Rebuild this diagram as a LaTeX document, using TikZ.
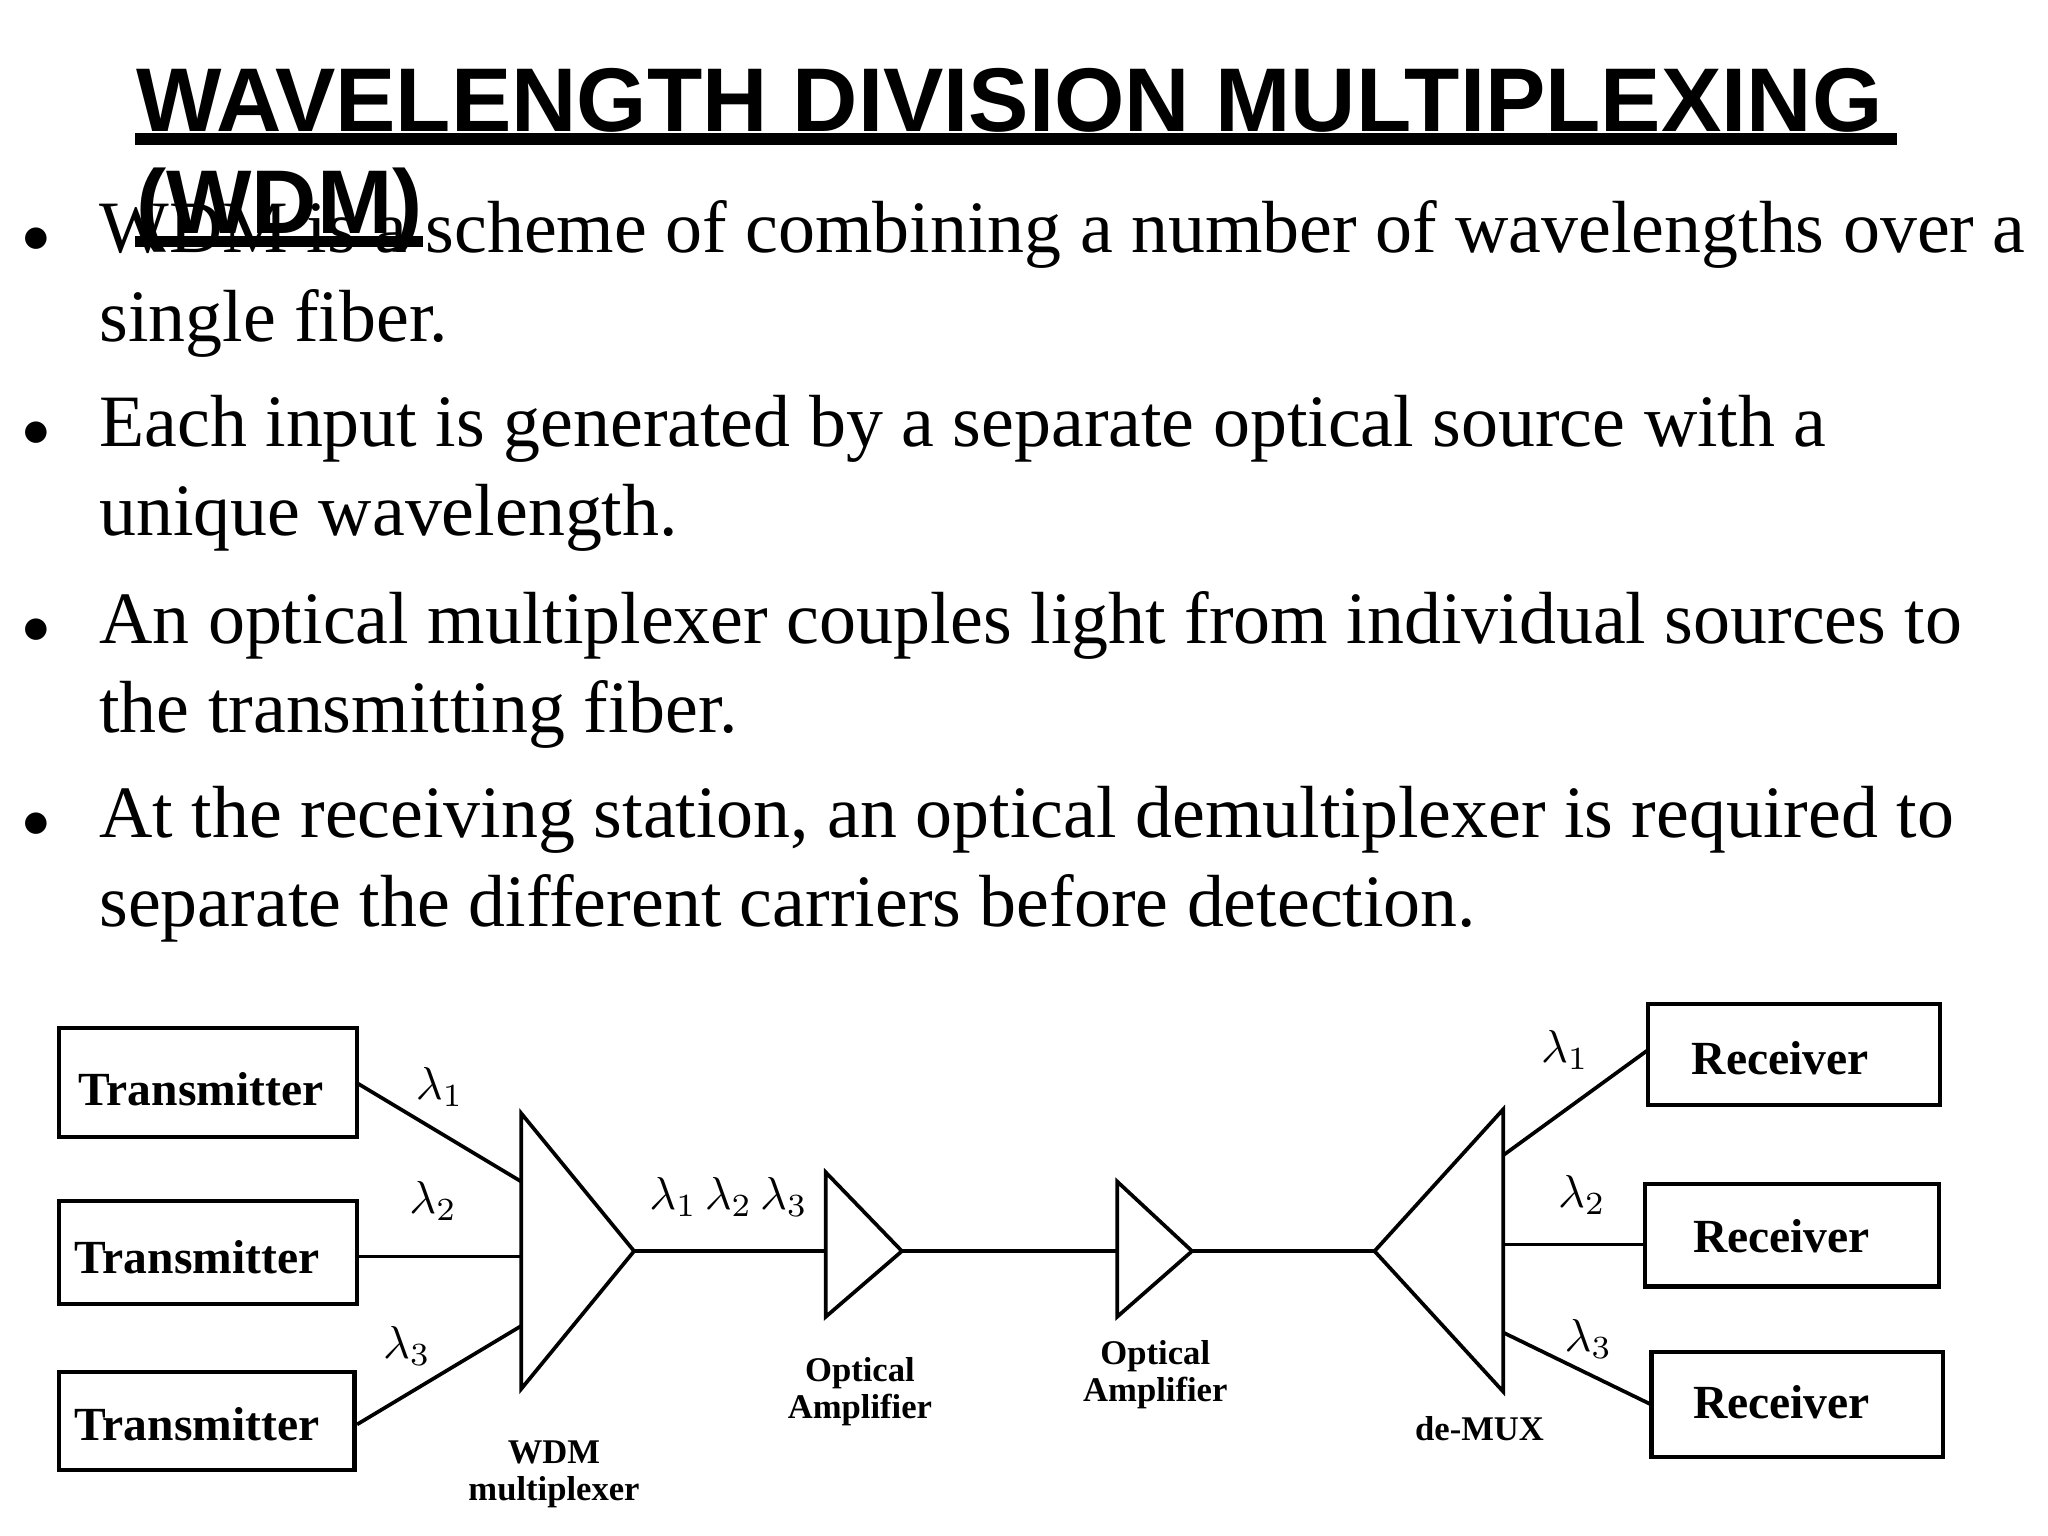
\documentclass[tikz,border=0pt]{standalone}
\usepackage{fontspec}
\setmainfont{Liberation Serif}
\newfontfamily\sansf{Liberation Sans}
\begin{document}
\begin{tikzpicture}[x=0.01cm,y=-0.01cm,
  tx/.style={anchor=base west,inner sep=0,font=\fontsize{16}{18}\selectfont},
  bul/.style={anchor=base,inner sep=0,font=\fontsize{13}{18}\selectfont},
  box/.style={draw,line width=0.9pt,inner sep=0},
  bl/.style={font=\fontsize{10.3}{12}\selectfont\bfseries,inner sep=0},
  sl/.style={font=\fontsize{7.5}{8}\selectfont\bfseries,align=center,inner sep=0},
  lam/.style={font=\fontsize{10}{11}\selectfont,inner sep=0},
  ln/.style={line width=0.8pt}]
\useasboundingbox (0,0) rectangle (1560,1170);
\node[anchor=base west,inner sep=0,font=\sansf\fontsize{19.6}{20}\selectfont\bfseries] (t1) at (103,100) {WAVELENGTH DIVISION MULTIPLEXING};
\node[anchor=base west,inner sep=0,font=\sansf\fontsize{19.6}{20}\selectfont\bfseries] (t2) at (103,178) {(WDM)};
\draw[line width=2.5pt] (103,106) -- (1445,106);
\draw[line width=2.5pt] (103,184) -- (322,184);
\foreach \y/\n in {192/b1,340/b2,490/b3,638/b4} \node[bul] (\n) at (28,\y) {$\bullet$};
\node[tx] (l1) at (75,192) {WDM is a scheme of combining a number of wavelengths over a};
\node[tx] (l2) at (75,260) {single fiber.};
\node[tx] (l3) at (75,340) {Each input is generated by a separate optical source with a};
\node[tx] (l4) at (75,408) {unique wavelength.};
\node[tx] (l5) at (75,490) {An optical multiplexer couples light from individual sources to};
\node[tx] (l6) at (75,558) {the transmitting fiber.};
\node[tx] (l7) at (75,638) {At the receiving station, an optical demultiplexer is required to};
\node[tx] (l8) at (75,706) {separate the different carriers before detection.};
% boxes
\draw[box] (45,783) rectangle (272,866); \node[bl] (T1) at (153,830) {Transmitter};
\draw[box] (45,915) rectangle (272,993); \node[bl] (T2) at (150,958) {Transmitter};
\draw[box] (45,1045) rectangle (270,1120); \node[bl] (T3) at (150,1085) {Transmitter};
\draw[box] (1255,765) rectangle (1478,842); \node[bl] (R1) at (1356,806) {Receiver};
\draw[box] (1253,902) rectangle (1477,980); \node[bl] (R2) at (1357,942) {Receiver};
\draw[box] (1258,1030) rectangle (1480,1110); \node[bl] (R3) at (1357,1068) {Receiver};
% triangles
\coordinate (mt) at (397,848); \coordinate (mb) at (397,1058); \coordinate (mo) at (483,953);
\draw[ln] (mt) -- (mb) -- (mo) -- cycle;
\coordinate (a1) at (629,893); \coordinate (a1b) at (629,1003); \coordinate (a1o) at (687,953);
\draw[ln] (a1) -- (a1b) -- (a1o) -- cycle;
\coordinate (a2) at (851,900); \coordinate (a2b) at (851,1003); \coordinate (a2o) at (908,953);
\draw[ln] (a2) -- (a2b) -- (a2o) -- cycle;
\coordinate (di) at (1047,953); \coordinate (dt) at (1145,845); \coordinate (db) at (1145,1060);
\draw[ln] (di) -- (dt) -- (db) -- cycle;
% connectors
\draw[ln] (272,825) -- (397,900);
\draw[ln] (272,957) -- (397,957);
\draw[ln] (272,1085) -- (397,1010);
\draw[ln] (mo) -- (629,953);
\draw[ln] (a1o) -- (851,953);
\draw[ln] (a2o) -- (di);
\draw[ln] (1145,880) -- (1255,800);
\draw[ln] (1145,948) -- (1253,948);
\draw[ln] (1145,1015) -- (1258,1070);
% labels
\node[lam] (k1) at (335,828) {$\lambda_1$};
\node[lam] (k2) at (330,915) {$\lambda_2$};
\node[lam] (k3) at (310,1025) {$\lambda_3$};
\node[lam] (k4) at (555,912) {$\lambda_1\,\lambda_2\,\lambda_3$};
\node[lam] (k5) at (1192,800) {$\lambda_1$};
\node[lam] (k6) at (1205,910) {$\lambda_2$};
\node[lam] (k7) at (1210,1020) {$\lambda_3$};
\node[sl] (w) at (422,1123) {WDM\\multiplexer};
\node[sl] (o1) at (655,1060) {Optical\\Amplifier};
\node[sl] (o2) at (880,1047) {Optical\\Amplifier};
\node[sl] (dm) at (1127,1088) {de-MUX};
\end{tikzpicture}
\end{document}
